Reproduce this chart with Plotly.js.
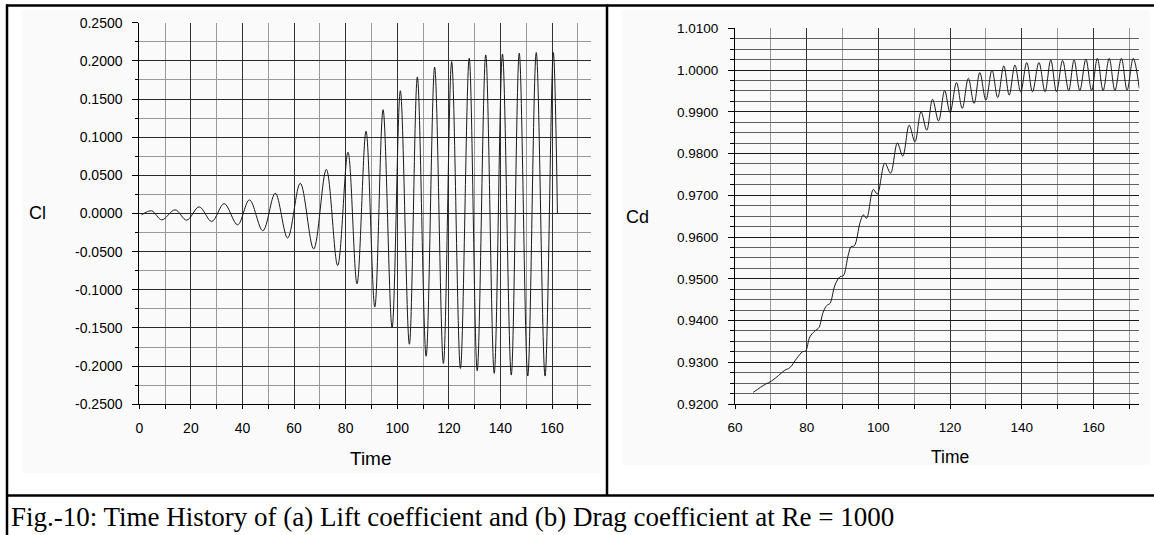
<!DOCTYPE html>
<html>
<head>
<meta charset="utf-8">
<script src="https://cdn.plot.ly/plotly-3.0.1.min.js"></script>
<style>
  html, body { margin: 0; padding: 0; background: #ffffff; }
  #fig { width: 1154px; height: 535px; }
</style>
</head>
<body>
<div id="fig"></div>
<script>
// (a) Lift coefficient history: successive turning points of the oscillation
const clTime = [0.9, 4.8, 8.7, 13.9, 18.4, 23.2, 28.1, 32.9, 38.1, 42.7, 47.9, 52.7,
  57.5, 62.4, 67.6, 72.5, 76.9, 80.9, 84.4, 87.9, 91.3, 94.5, 98.0, 101.2, 104.7,
  107.8, 111.2, 114.5, 117.9, 121.1, 124.5, 127.9, 131.0, 134.3, 137.6, 140.8,
  144.2, 147.3, 150.6, 153.9, 157.3, 160.5, 162.1];
const clValue = [-0.0018, 0.0035, -0.0083, 0.0048, -0.0087, 0.0087, -0.0104, 0.0130,
  -0.0148, 0.0178, -0.0226, 0.0265, -0.0320, 0.0396, -0.0465, 0.0578, -0.0682,
  0.0804, -0.0922, 0.1078, -0.1226, 0.1360, -0.1496, 0.1609, -0.1713, 0.1790,
  -0.1870, 0.1918, -0.1965, 0.1990, -0.2030, 0.2035, -0.2060, 0.2078, -0.2095,
  0.2090, -0.2117, 0.2100, -0.2130, 0.2110, -0.2130, 0.2110, 0.0000];

// (b) Drag coefficient history
const cdTime = [65.1, 68.4, 70.2, 72.1, 73.9, 75.3, 77.2, 78.8, 79.7, 80.9, 82.3, 83.4,
  84.6, 85.6, 86.5, 87.9, 89.3, 90.2, 91.6, 92.4, 93.3, 94.9, 95.8, 96.7, 98.6, 99.7,
  101.8, 103.4, 105.3, 106.8, 108.6, 110.2, 111.9, 113.5, 115.1, 116.8, 118.5, 120.0,
  121.8, 123.4, 125.1, 126.7, 128.3, 130.0, 131.7, 133.3, 135.0, 136.5, 138.1, 139.7,
  141.4, 143.0, 144.8, 146.5, 148.1, 149.7, 151.4, 153.1, 154.6, 156.2, 157.9, 159.5,
  161.1, 162.7, 164.4, 166.0, 167.8, 169.4, 171.1, 172.8];
const cdValue = [0.9228, 0.9247, 0.9255, 0.9268, 0.9281, 0.9287, 0.9309, 0.9325, 0.9327,
  0.9361, 0.9375, 0.9383, 0.9420, 0.9436, 0.9441, 0.9485, 0.9505, 0.9507, 0.9557,
  0.9577, 0.9579, 0.9635, 0.9653, 0.9645, 0.9714, 0.9703, 0.9777, 0.9753, 0.9825,
  0.9794, 0.9868, 0.9828, 0.9900, 0.9856, 0.9930, 0.9878, 0.9951, 0.9898, 0.9970,
  0.9908, 0.9980, 0.9920, 0.9994, 0.9928, 1.0000, 0.9934, 1.0010, 0.9940, 1.0012,
  0.9948, 1.0018, 0.9948, 1.0018, 0.9948, 1.0024, 0.9948, 1.0023, 0.9951, 1.0024,
  0.9951, 1.0026, 0.9951, 1.0028, 0.9951, 1.0028, 0.9951, 1.0028, 0.9952, 1.0028,
  0.9956];

// Tick labels
const clTickVals = [-0.25, -0.2, -0.15, -0.1, -0.05, 0, 0.05, 0.1, 0.15, 0.2, 0.25];
const clTickText = ['-0.2500', '-0.2000', '-0.1500', '-0.1000', '-0.0500', '0.0000',
  '0.0500', '0.1000', '0.1500', '0.2000', '0.2500'];
const cdTickVals = [0.92, 0.93, 0.94, 0.95, 0.96, 0.97, 0.98, 0.99, 1.00, 1.01];
const cdTickText = ['0.9200', '0.9300', '0.9400', '0.9500', '0.9600', '0.9700',
  '0.9800', '0.9900', '1.0000', '1.0100'];

const axisLabelCl = 'Cl';
const axisLabelCd = 'Cd';
const timeLabel = 'Time';
const caption = 'Fig.-10: Time History of (a) Lift coefficient and (b) Drag coefficient at Re = 1000';

// page geometry helpers (pixel -> paper fraction)
const W = 1154, H = 535;
const px = x => x / W;
const py = y => 1 - y / H;

const sans = 'Liberation Sans, Arial, sans-serif';
const serif = 'Liberation Serif, Times New Roman, serif';

const traces = [
  { x: clTime, y: clValue, xaxis: 'x', yaxis: 'y', mode: 'lines',
    line: { color: '#1a1a1a', width: 1, shape: 'spline', smoothing: 1 }, hoverinfo: 'skip' },
  { x: cdTime, y: cdValue, xaxis: 'x2', yaxis: 'y2', mode: 'lines',
    line: { color: '#1a1a1a', width: 1, shape: 'spline', smoothing: 1 }, hoverinfo: 'skip' }
];

const commonX = {
  tickmode: 'linear', dtick: 20, ticks: 'outside', ticklen: 4, tickcolor: '#000',
  showline: true, linecolor: '#000', linewidth: 1, zeroline: false,
  showgrid: true, gridwidth: 1, ticklabelstandoff: 7, fixedrange: true
};
const commonY = {
  tickmode: 'array', ticks: 'outside', ticklen: 6, tickcolor: '#000',
  showline: true, linecolor: '#000', linewidth: 1, zeroline: false,
  showgrid: true, gridwidth: 1, ticklabelstandoff: 7, fixedrange: true
};

const layout = {
  width: W, height: H,
  margin: { l: 0, r: 0, t: 0, b: 0 },
  paper_bgcolor: '#ffffff', plot_bgcolor: 'rgba(0,0,0,0)',
  showlegend: false,
  font: { family: sans, color: '#000' },
  xaxis: Object.assign({}, commonX, {
    domain: [px(139.3), px(590.7)], range: [0, 175], tick0: 0, anchor: 'y',
    gridcolor: '#333', tickfont: { size: 14, family: sans, color: '#000' },
    minor: { tick0: 0, dtick: 10, ticks: 'outside', ticklen: 4, tickcolor: '#000',
             showgrid: true, gridcolor: '#999' }
  }),
  yaxis: Object.assign({}, commonY, {
    domain: [py(404.3), py(22.7)], range: [-0.25, 0.25], anchor: 'x',
    tickvals: clTickVals, ticktext: clTickText, gridcolor: '#2a2a2a',
    tickfont: { size: 14, family: sans, color: '#000' },
    minor: { tickmode: 'linear', tick0: -0.25, dtick: 0.025, ticks: 'outside', ticklen: 3,
             tickcolor: '#000', showgrid: true, gridcolor: '#999' }
  }),
  xaxis2: Object.assign({}, commonX, {
    domain: [px(735), px(1139.3)], range: [60, 172.8], tick0: 60, anchor: 'y2',
    gridcolor: '#333', tickfont: { size: 13.5, family: sans, color: '#000' },
    minor: { tick0: 60, dtick: 10, ticks: 'outside', ticklen: 4, tickcolor: '#000',
             showgrid: true, gridcolor: '#999' }
  }),
  yaxis2: Object.assign({}, commonY, {
    domain: [py(404), py(28.3)], range: [0.92, 1.01], anchor: 'x2',
    tickvals: cdTickVals, ticktext: cdTickText, gridcolor: '#1a1a1a',
    tickfont: { size: 13.5, family: sans, color: '#000' },
    minor: { tickmode: 'linear', tick0: 0.92, dtick: 0.0025, ticks: 'outside', ticklen: 4,
             tickcolor: '#000', showgrid: true, gridcolor: '#606060' }
  }),
  shapes: [
    // faint panel backgrounds
    { type: 'rect', xref: 'paper', yref: 'paper', layer: 'below',
      x0: px(22), x1: px(600), y0: py(473), y1: py(10),
      line: { width: 0 }, fillcolor: '#fafafa' },
    { type: 'rect', xref: 'paper', yref: 'paper', layer: 'below',
      x0: px(622), x1: px(1150), y0: py(465), y1: py(10),
      line: { width: 0 }, fillcolor: '#fafafa' },
    // table rules
    { type: 'line', xref: 'paper', yref: 'paper', x0: px(6), x1: px(1154), y0: py(5.5), y1: py(5.5),
      line: { color: '#000', width: 2.5 } },
    { type: 'line', xref: 'paper', yref: 'paper', x0: px(7), x1: px(7), y0: py(4.5), y1: py(535),
      line: { color: '#000', width: 2.5 } },
    { type: 'line', xref: 'paper', yref: 'paper', x0: px(607), x1: px(607), y0: py(4.5), y1: py(495.5),
      line: { color: '#000', width: 2.5 } },
    { type: 'line', xref: 'paper', yref: 'paper', x0: px(6), x1: px(1154), y0: py(495.5), y1: py(495.5),
      line: { color: '#000', width: 2.5 } }
  ],
  annotations: [
    { xref: 'paper', yref: 'paper', x: px(37), y: py(212.7), text: axisLabelCl, showarrow: false,
      xanchor: 'center', yanchor: 'middle', font: { size: 18, family: sans, color: '#000' } },
    { xref: 'paper', yref: 'paper', x: px(637.5), y: py(216.7), text: axisLabelCd, showarrow: false,
      xanchor: 'center', yanchor: 'middle', font: { size: 18, family: sans, color: '#000' } },
    { xref: 'paper', yref: 'paper', x: px(370.5), y: py(458), text: timeLabel, showarrow: false,
      xanchor: 'center', yanchor: 'middle', font: { size: 19, family: sans, color: '#000' } },
    { xref: 'paper', yref: 'paper', x: px(950), y: py(456.7), text: timeLabel, showarrow: false,
      xanchor: 'center', yanchor: 'middle', font: { size: 17.5, family: sans, color: '#000' } },
    { xref: 'paper', yref: 'paper', x: px(9), y: py(516.5), text: caption, showarrow: false,
      xanchor: 'left', yanchor: 'middle', font: { size: 27, family: serif, color: '#000' } }
  ]
};

Plotly.newPlot('fig', traces, layout, { staticPlot: true, displayModeBar: false });
</script>
</body>
</html>
